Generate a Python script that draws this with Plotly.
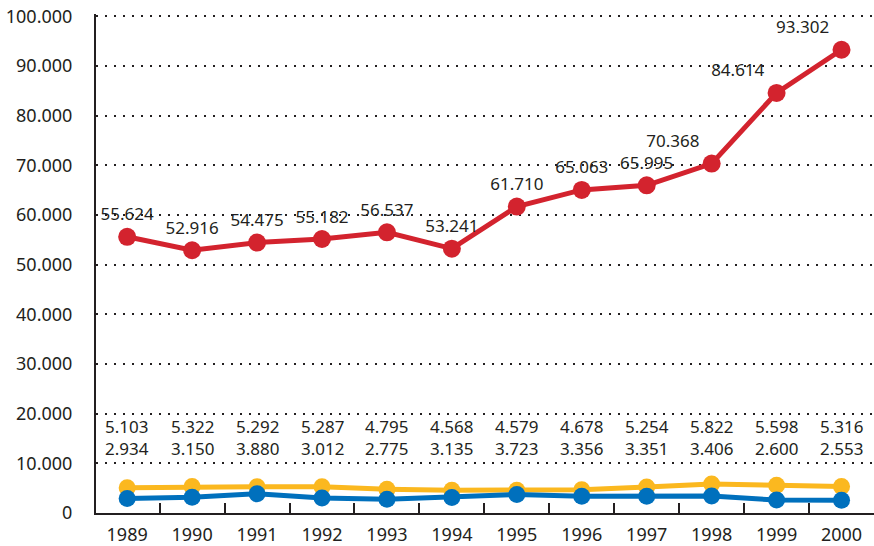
import plotly.graph_objects as go

years = ["1989", "1990", "1991", "1992", "1993", "1994", "1995", "1996", "1997", "1998", "1999", "2000"]
red = [55624, 52916, 54475, 55182, 56537, 53241, 61710, 65063, 65995, 70368, 84614, 93302]
yellow = [5103, 5322, 5292, 5287, 4795, 4568, 4579, 4678, 5254, 5822, 5598, 5316]
blue = [2934, 3150, 3880, 3012, 2775, 3135, 3723, 3356, 3351, 3406, 2600, 2553]

RED = "#d3232e"
YEL = "#fbb81f"
BLU = "#0070bd"
INK = "#231f20"
FONT = "Noto Sans"


def fmt(v):
    return f"{v:,}".replace(",", ".")


fig = go.Figure()
fig.add_trace(go.Scatter(x=years, y=yellow, mode="lines+markers",
                         line=dict(color=YEL, width=5), marker=dict(size=17, color=YEL)))
fig.add_trace(go.Scatter(x=years, y=blue, mode="lines+markers",
                         line=dict(color=BLU, width=5), marker=dict(size=17, color=BLU)))
fig.add_trace(go.Scatter(x=years, y=red, mode="lines+markers+text",
                         text=[fmt(v) for v in red],
                         textposition=["top center"] * 9 + ["top left"] * 3,
                         textfont=dict(size=17, color=INK, family=FONT),
                         line=dict(color=RED, width=5), marker=dict(size=18, color=RED)))

# small-series values printed as two rows above the lines
for i, (a, b) in enumerate(zip(yellow, blue)):
    fig.add_annotation(x=i, y=15200, text=f"{fmt(a)}<br>{fmt(b)}", showarrow=False,
                       font=dict(size=17, color=INK, family=FONT))

fig.update_layout(
    width=874, height=546, showlegend=False,
    plot_bgcolor="white", paper_bgcolor="white",
    separators=",.",
    margin=dict(l=96, r=0, t=14, b=31),
    font=dict(family=FONT, size=17, color=INK),
    xaxis=dict(type="category", range=[-0.48, 11.5], showline=True, linecolor=INK,
               linewidth=2, ticks="inside", tickson="boundaries", ticklen=10,
               tickcolor=INK, tickwidth=1.5, showgrid=False, ticklabelstandoff=4,
               tickfont=dict(size=18)),
    yaxis=dict(range=[0, 100500], dtick=10000, tickformat=",d", showline=True,
               linecolor=INK, linewidth=2, showgrid=True, gridcolor=INK,
               griddash="2px,7px", gridwidth=1.5, zeroline=False, ticks="",
               ticklabelstandoff=18, tickfont=dict(size=18)),
)

fig.write_html("out.html", config={"displayModeBar": False},
               post_script="document.body.style.margin='0';")
